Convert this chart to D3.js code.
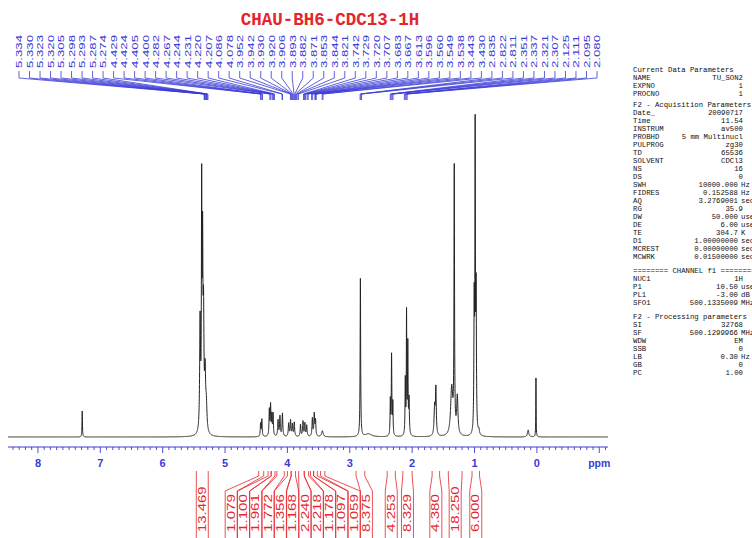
<!DOCTYPE html>
<html>
<head>
<meta charset="utf-8">
<script src="https://cdn.jsdelivr.net/npm/d3@7.9.0/dist/d3.min.js"></script>
<style>
  html, body { margin: 0; padding: 0; background: #fff; overflow: hidden; }
  svg { display: block; }
</style>
</head>
<body>
<svg id="chart" width="752" height="538"></svg>
<script>
const title = 'CHAU-BH6-CDC13-1H';

// peaks: shift (ppm), height (trace units), half width (ppm)
const peakShift = [7.29,
  5.40, 5.375, 5.36, 5.345, 5.32, 5.30,
  4.43, 4.41, 4.29, 4.27, 4.25, 4.23, 4.15, 4.12, 4.08,
  3.98, 3.95, 3.92, 3.89, 3.79, 3.75, 3.72, 3.69, 3.60, 3.57, 3.55, 3.44,
  2.83, 2.70, 2.35, 2.33, 2.31, 2.11, 2.09, 2.07, 2.05,
  1.64, 1.62, 1.366, 1.325, 1.276, 1.005, 0.99, 0.975, 0.93,
  0.14, 0.015];
const peakHeight = [26,
  110, 230, 170, 110, 55, 25,
  13, 17, 26, 30, 20, 22, 16, 20, 23,
  13, 16, 12, 14, 12, 15, 13, 11, 18, 22, 16, 6,
  158, 3, 35, 80, 32, 55, 120, 90, 35,
  28, 46, 48, 262, 38, 130, 285, 140, 5,
  7, 59];
const peakWidth = [0.004,
  0.008, 0.005, 0.006, 0.008, 0.01, 0.012,
  0.006, 0.006, 0.006, 0.006, 0.006, 0.006, 0.007, 0.007, 0.007,
  0.007, 0.007, 0.007, 0.007, 0.007, 0.007, 0.007, 0.007, 0.007, 0.007, 0.007, 0.015,
  0.005, 0.06, 0.005, 0.005, 0.005, 0.005, 0.004, 0.005, 0.006,
  0.01, 0.008, 0.02, 0.005, 0.012, 0.006, 0.004, 0.006, 0.01,
  0.012, 0.003];

const shiftLabels = ['5.334', '5.330', '5.323', '5.320', '5.305', '5.298', '5.293', '5.287', '5.274',
  '4.429', '4.424', '4.405', '4.400', '4.282', '4.267', '4.244', '4.231', '4.220', '4.207',
  '4.086', '4.078', '3.952', '3.942', '3.930', '3.920', '3.906', '3.893', '3.882', '3.871',
  '3.853', '3.844', '3.821', '3.742', '3.729', '3.720', '3.707', '3.683', '3.667',
  '3.613', '3.596', '3.560', '3.549', '3.538', '3.443', '3.430',
  '2.835', '2.822', '2.811', '2.351', '2.337', '2.321', '2.307',
  '2.125', '2.111', '2.095', '2.080'];

const integralValues = ['13.469', '1.079', '1.100', '1.961', '1.772', '1.356', '1.168', '2.240',
  '2.218', '1.178', '1.097', '1.059', '8.375', '4.253', '8.329', '4.380', '18.250', '6.000'];
const integralFrom = [5.46, 4.46, 4.31, 4.26, 4.17, 4.00, 3.94, 3.82, 3.73, 3.63, 3.58, 3.47,
  2.90, 2.40, 2.15, 1.68, 1.42, 1.04];
const integralTo = [5.27, 4.38, 4.26, 4.20, 4.05, 3.94, 3.87, 3.73, 3.66, 3.58, 3.52, 3.40,
  2.76, 2.27, 2.00, 1.56, 1.20, 0.92];

const axisTicks = [8, 7, 6, 5, 4, 3, 2, 1, 0];

const paramHeaders = ['Current Data Parameters', 'F2 - Acquisition Parameters',
  '======== CHANNEL f1 ========', 'F2 - Processing parameters'];
const paramNames = [
  ['NAME', 'EXPNO', 'PROCNO'],
  ['Date_', 'Time', 'INSTRUM', 'PROBHD', 'PULPROG', 'TD', 'SOLVENT', 'NS', 'DS', 'SWH', 'FIDRES',
   'AQ', 'RG', 'DW', 'DE', 'TE', 'D1', 'MCREST', 'MCWRK'],
  ['NUC1', 'P1', 'PL1', 'SFO1'],
  ['SI', 'SF', 'WDW', 'SSB', 'LB', 'GB', 'PC']];
const paramValues = [
  ['TU_SON2', '1', '1'],
  ['20090717', '11.54', 'av500', '5 mm Multinucl', 'zg30', '65536', 'CDCl3', '16', '0', '10000.000',
   '0.152588', '3.2769001', '35.9', '50.000', '6.00', '304.7', '1.00000000', '0.00000000', '0.01500000'],
  ['1H', '10.50', '-3.00', '500.1335009'],
  ['32768', '500.1299966', 'EM', '0', '0.30', '0', '1.00']];
const paramUnits = [
  ['', '', ''],
  ['', '', '', '', '', '', '', '', '', 'Hz', 'Hz', 'sec', '', 'usec', 'usec', 'K', 'sec', 'sec', 'sec'],
  ['', 'usec', 'dB', 'MHz'],
  ['', 'MHz', '', '', 'Hz', '', '']];

const blue = '#3a3ad6';
const red = '#e4262b';

const svg = d3.select('#chart');

const x = d3.scaleLinear().domain([8.48, -1.14]).range([8, 608]);
const y = d3.scaleLinear().domain([0, 330]).range([437, 107]);

// title
svg.append('text')
  .attr('x', 330).attr('y', 25)
  .attr('text-anchor', 'middle')
  .attr('font-family', 'Liberation Mono, monospace')
  .attr('font-weight', 'bold')
  .attr('font-size', 17.5)
  .attr('fill', red)
  .text(title);

// trace: sum of lorentzian lines from the peak list
let shifts = d3.range(8.48, -1.14, -0.001).concat(peakShift);
shifts.sort((a, b) => b - a);
const trace = shifts.map((s) => {
  let v = 0;
  peakShift.forEach((p, i) => {
    const w = peakWidth[i];
    v += peakHeight[i] * w * w / (w * w + (s - p) * (s - p));
  });
  return [s, v];
});

svg.append('path')
  .datum(trace)
  .attr('fill', 'none')
  .attr('stroke', '#222')
  .attr('stroke-width', 1)
  .attr('d', d3.line().x((d) => x(d[0])).y((d) => y(d[1])));

// ppm axis
const axisY = 447;
svg.append('line')
  .attr('x1', 8).attr('x2', 608)
  .attr('y1', axisY).attr('y2', axisY)
  .attr('stroke', blue).attr('stroke-width', 1);

const minor = d3.range(-11, 85).map((d) => d / 10);
svg.selectAll('.minor')
  .data(minor)
  .join('line')
  .attr('x1', (d) => x(d)).attr('x2', (d) => x(d))
  .attr('y1', axisY).attr('y2', (d) => Math.abs(d - Math.round(d)) < 1e-6 ? axisY + 6 : axisY + 3)
  .attr('stroke', blue).attr('stroke-width', 0.9);

svg.selectAll('.tick-label')
  .data(axisTicks)
  .join('text')
  .attr('x', (d) => x(d)).attr('y', 467)
  .attr('text-anchor', 'middle')
  .attr('font-family', 'Liberation Sans, Arial, sans-serif')
  .attr('font-weight', 'bold')
  .attr('font-size', 11)
  .attr('fill', blue)
  .text((d) => d);

svg.append('text')
  .attr('x', x(-1)).attr('y', 467)
  .attr('text-anchor', 'middle')
  .attr('font-family', 'Liberation Sans, Arial, sans-serif')
  .attr('font-weight', 'bold')
  .attr('font-size', 10.5)
  .attr('fill', blue)
  .text('ppm');

// peak pick labels along the top
const labelX = d3.scalePoint().domain(d3.range(shiftLabels.length)).range([19, 597]);

svg.selectAll('.pk-line')
  .data(shiftLabels)
  .join('path')
  .attr('fill', 'none')
  .attr('stroke', blue)
  .attr('stroke-width', 0.8)
  .attr('d', (d, i) => {
    const lx = labelX(i), px = x(+d);
    return `M${lx},71L${lx},78L${px},94L${px},100`;
  });

svg.selectAll('.pk-label')
  .data(shiftLabels)
  .join('text')
  .attr('transform', (d, i) => `translate(${labelX(i) + 3.4},68) rotate(-90)`)
  .attr('font-family', 'Liberation Sans, Arial, sans-serif')
  .attr('font-size', 9.5)
  .attr('fill', blue)
  .attr('textLength', 33)
  .attr('lengthAdjust', 'spacingAndGlyphs')
  .text((d) => d);

// integrals along the bottom
function spread(centers, gap) {
  const pos = centers.slice();
  for (let it = 0; it < 300; it++) {
    let moved = false;
    for (let i = 1; i < pos.length; i++) {
      const d = pos[i] - pos[i - 1];
      if (d < gap - 0.01) {
        const s = (gap - d) / 2;
        pos[i - 1] -= s;
        pos[i] += s;
        moved = true;
      }
    }
    if (!moved) break;
  }
  return pos;
}

const centers = integralValues.map((d, i) => (x(integralFrom[i]) + x(integralTo[i])) / 2);
const intX = spread(centers, 12.3);

integralValues.forEach((v, i) => {
  const x1 = x(integralFrom[i]), x2 = x(integralTo[i]), lx = intX[i];
  svg.append('path')
    .attr('fill', 'none')
    .attr('stroke', red)
    .attr('stroke-width', 0.8)
    .attr('d', `M${x1},471L${x1},476L${lx - 6},491L${lx - 6},538`);
  svg.append('path')
    .attr('fill', 'none')
    .attr('stroke', red)
    .attr('stroke-width', 0.8)
    .attr('d', `M${x2},471L${x2},476L${lx + 6},491L${lx + 6},538`);
  svg.append('text')
    .attr('transform', `translate(${lx + 3.6},532) rotate(-90)`)
    .attr('font-family', 'Liberation Sans, Arial, sans-serif')
    .attr('font-size', 10)
    .attr('fill', red)
    .attr('textLength', v.length * 7.6)
    .attr('lengthAdjust', 'spacingAndGlyphs')
    .text(v);
});

// acquisition / processing parameters (the panel runs off the right edge, as in the plot)
const panel = svg.append('g')
  .attr('font-family', 'Liberation Mono, Courier New, monospace')
  .attr('font-size', 7.3)
  .attr('fill', '#111');

const groupGap = [0, 11, 14, 14];
let rowY = 69;
paramHeaders.forEach((h, g) => {
  if (g > 0) rowY += groupGap[g];
  panel.append('text').attr('x', 633).attr('y', rowY + 2.5).text(h);
  paramNames[g].forEach((name, i) => {
    rowY += 8.03;
    const unit = paramUnits[g][i];
    panel.append('text').attr('x', 633).attr('y', rowY + 2.5).text(name);
    panel.append('text')
      .attr('x', unit ? 738 : 743).attr('y', rowY + 2.5)
      .attr('text-anchor', 'end')
      .text(paramValues[g][i]);
    if (unit) {
      panel.append('text').attr('x', 741).attr('y', rowY + 2.5).text(unit);
    }
  });
});
</script>
</body>
</html>
